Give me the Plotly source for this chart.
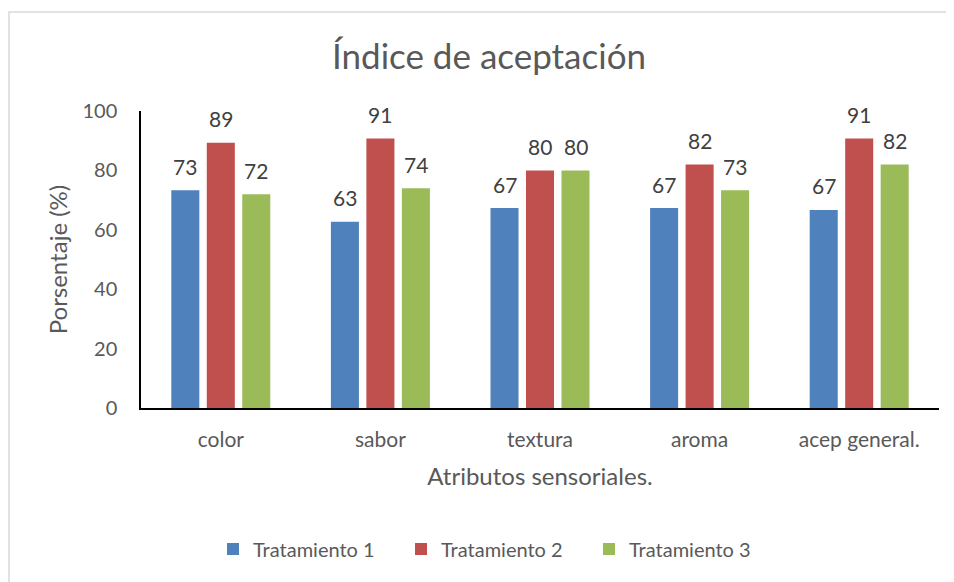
import plotly.graph_objs as go

# data
categorias = ['color', 'sabor', 'textura', 'aroma', 'acep general.']
series = ['Tratamiento 1', 'Tratamiento 2', 'Tratamiento 3']
tratamiento_1 = [73.3, 62.7, 67.3, 67.3, 66.7]
tratamiento_2 = [89.3, 90.7, 80.0, 82.0, 90.7]
tratamiento_3 = [72.0, 74.0, 80.0, 73.3, 82.0]
colores = ['#4F81BD', '#C0504D', '#9BBB59']

font = 'Lato, Calibri, sans-serif'
valores = [tratamiento_1, tratamiento_2, tratamiento_3]

# page body has an 8px margin, so the figure is a bit smaller than the window
W, H = 946, 574

data = []
for nombre, vals, col in zip(series, valores, colores):
    data.append(go.Bar(x=categorias, y=vals, name=nombre,
                       marker=dict(color=col, line=dict(width=0))))

# value labels above each bar
annotations = []
for i, vals in enumerate(valores):
    for cat, v in zip(categorias, vals):
        annotations.append(dict(x=cat, y=v, text='%.0f' % v, showarrow=False,
                                xshift=(i - 1) * 35.5, yshift=24,
                                yanchor='middle',
                                font=dict(family=font, size=21, color='#404040')))

layout = go.Layout(
    width=W, height=H,
    margin=dict(l=133, r=15, t=103, b=174),
    paper_bgcolor='white', plot_bgcolor='white',
    title=dict(text='Índice de aceptación', x=481 / W, xanchor='center',
               y=1 - 49 / H, yanchor='middle',
               font=dict(family=font, size=35, color='#595959')),
    barmode='group', bargap=0.333, bargroupgap=0.21,
    xaxis=dict(title=dict(text='Atributos sensoriales.', standoff=18,
                          font=dict(family=font, size=24, color='#595959')),
               showline=True, linecolor='black', linewidth=2,
               ticks='', showgrid=False, ticklabelstandoff=12,
               tickfont=dict(family=font, size=21, color='#595959')),
    yaxis=dict(title=dict(text='Porsentaje (%)', standoff=8,
                          font=dict(family=font, size=24, color='#595959')),
               range=[0, 100], dtick=20, showline=True, linecolor='black',
               linewidth=1.5, ticks='', showgrid=False, zeroline=False,
               ticklabelstandoff=18,
               tickfont=dict(family=font, size=20, color='#595959')),
    legend=dict(orientation='h', x=(495 - 141) / 798, xanchor='center',
                y=(408 - 549) / 297, yanchor='middle',
                font=dict(family=font, size=20, color='#595959'),
                entrywidth=143, entrywidthmode='pixels'),
    annotations=annotations,
    shapes=[dict(type='rect', xref='paper', yref='paper',
                 x0=(9 - 141) / 798, x1=(960 - 141) / 798,
                 y0=(408 - 590) / 297, y1=(408 - 12) / 297,
                 line=dict(color='#D9D9D9', width=1.5), layer='below')],
)

fig = go.Figure(data=data, layout=layout)
fig.write_html('out.html')
